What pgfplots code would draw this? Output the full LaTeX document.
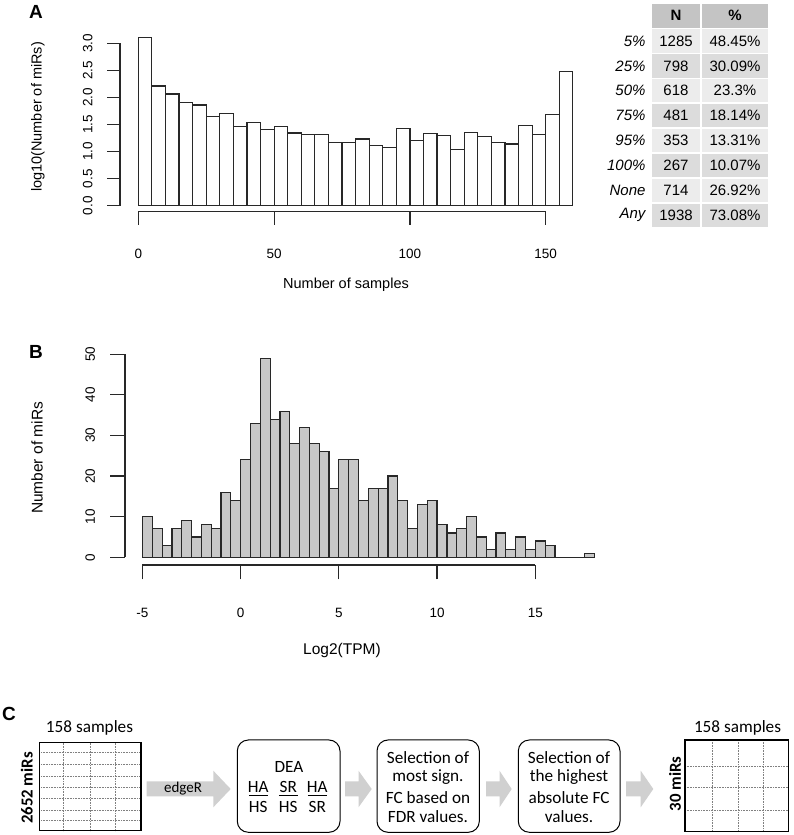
\documentclass[border=0pt]{standalone}
\usepackage{pgfplots}
\pgfplotsset{compat=1.18}
\usepackage{fontspec}
\setmainfont{Liberation Sans}
\newfontfamily\cali{Carlito}
\definecolor{barB}{RGB}{200,200,200}
\definecolor{edge}{RGB}{40,40,40}
\definecolor{thead}{RGB}{196,196,196}
\definecolor{rowa}{RGB}{236,236,236}
\definecolor{rowb}{RGB}{220,220,220}
\definecolor{arr}{RGB}{208,208,208}
\begin{document}
\begin{tikzpicture}
\useasboundingbox (0,0) rectangle (793pt,835pt);

% ---------------- Panel A ----------------
\begin{axis}[at={(120pt,623.3pt)}, anchor=south west, x=2.716pt, y=54.2pt,
  xmin=-6.74, xmax=162, ymin=-0.11, ymax=3.2, clip=false,
  axis lines*=left, axis line style={draw=none},
  xtick={0,50,100,150}, ytick={0,0.5,1,1.5,2,2.5,3},
  tick align=outside, major tick length=13pt,
  tick style={line width=1.2pt, edge},
  /pgf/number format/assume math mode=true,
  ticklabel style={font=\fontsize{13.5}{15}\selectfont},
  yticklabel style={/pgf/number format/fixed, /pgf/number format/fixed zerofill,
     /pgf/number format/precision=1, xshift=-11pt, rotate=90, anchor=south},
  xticklabel style={anchor=north, yshift=-21pt}]
\addplot[ybar interval, fill=white, draw=edge, line width=1.2pt] coordinates {
 (0,3.10) (5,2.21) (10,2.06) (15,1.91) (20,1.86) (25,1.65) (30,1.70) (35,1.46)
 (40,1.53) (45,1.41) (50,1.46) (55,1.34) (60,1.32) (65,1.32) (70,1.17) (75,1.17)
 (80,1.23) (85,1.11) (90,1.08) (95,1.43) (100,1.20) (105,1.33) (110,1.29) (115,1.04)
 (120,1.35) (125,1.27) (130,1.17) (135,1.14) (140,1.48) (145,1.32) (150,1.69) (155,2.47)
 (160,0)};
\draw[line width=1.2pt, edge] (axis cs:0,-0.11) -- (axis cs:150,-0.11);
\draw[line width=1.2pt, edge] (axis cs:-6.74,0) -- (axis cs:-6.74,3);
\end{axis}

% ---------------- Panel B ----------------
\begin{axis}[at={(125pt,270pt)}, anchor=south west, x=19.64pt, y=4.06pt,
  xmin=-5.89, xmax=19, ymin=-1.9, ymax=52, clip=false,
  axis lines*=left, axis line style={draw=none},
  xtick={-5,0,5,10,15}, ytick={0,10,20,30,40,50},
  tick align=outside, major tick length=14.5pt,
  tick style={line width=1.2pt, edge},
  /pgf/number format/assume math mode=true,
  ticklabel style={font=\fontsize{13.5}{15}\selectfont},
  yticklabel style={xshift=-12pt, rotate=90, anchor=south},
  xticklabel style={anchor=north, yshift=-25pt}]
\addplot[ybar interval, fill=barB, draw=edge, line width=1.2pt] coordinates {
 (-5,10) (-4.5,7) (-4,3) (-3.5,7) (-3,9) (-2.5,5) (-2,8) (-1.5,7) (-1,16) (-0.5,14)
 (0,24) (0.5,33) (1,49) (1.5,34) (2,36) (2.5,28) (3,32) (3.5,28) (4,26) (4.5,17)
 (5,24) (5.5,24) (6,14) (6.5,17) (7,17) (7.5,20) (8,14) (8.5,7) (9,13) (9.5,14)
 (10,8) (10.5,6) (11,7) (11.5,10) (12,5) (12.5,2) (13,6) (13.5,2) (14,5) (14.5,2)
 (15,4) (15.5,3) (16,0) (16.5,0) (17,0) (17.5,1) (18,0)};
\draw[line width=1.2pt, edge] (axis cs:-5,-1.9) -- (axis cs:15,-1.9);
\draw[line width=1.2pt, edge] (axis cs:-5.89,0) -- (axis cs:-5.89,50);
\end{axis}

\begin{scope}[shift={(0pt,835pt)}, x=1pt, y=-1pt]
% panel letters
\node[font=\fontsize{19}{20}\selectfont\bfseries] at (36,12) {A};
\node[font=\fontsize{19}{20}\selectfont\bfseries] at (36,352) {B};
\node[font=\fontsize{19}{20}\selectfont\bfseries] at (9,714) {C};
% axis labels
\node[rotate=90, font=\fontsize{14.5}{16}\selectfont] at (38,117) {log10(Number of miRs)};
\node[font=\fontsize{14.5}{16}\selectfont] at (346,285) {Number of samples};
\node[rotate=90, font=\fontsize{15.5}{17}\selectfont] at (37,458) {Number of miRs};
\node[font=\fontsize{15.5}{17}\selectfont] at (342,650) {Log2(TPM)};

% ---------------- Table ----------------
\fill[thead] (652,4) rectangle (700,27.7);
\fill[thead] (702,4) rectangle (768,27.7);
\node[font=\fontsize{15}{16}\selectfont\bfseries] at (676,15.8) {N};
\node[font=\fontsize{15}{16}\selectfont\bfseries] at (735,15.8) {\%};
\foreach \lab/\n/\p [count=\i] in {5\%/1285/48.45\%, 25\%/798/30.09\%, 50\%/618/23.3\%,
   75\%/481/18.14\%, 95\%/353/13.31\%, 100\%/267/10.07\%, None/714/26.92\%, Any/1938/73.08\%}{
  \pgfmathsetmacro\yt{29.3+(\i-1)*24.9}
  \pgfmathsetmacro\yb{\yt+23.4}
  \pgfmathsetmacro\yc{\yt+11.7}
  \pgfmathtruncatemacro\odd{mod(\i,2)}
  \ifnum\odd=1 \def\rc{rowa}\else\def\rc{rowb}\fi
  \fill[\rc] (652,\yt) rectangle (700,\yb);
  \fill[\rc] (702,\yt) rectangle (768,\yb);
  \node[anchor=east, font=\fontsize{15}{16}\selectfont\itshape] at (649,\yc) {\lab};
  \node[font=\fontsize{15}{16}\selectfont] at (676,\yc) {\n};
  \node[font=\fontsize{15}{16}\selectfont] at (735,\yc) {\p};
}

% ---------------- Panel C ----------------
\begin{scope}[font=\cali\fontsize{17.2}{18}\selectfont]
% left grid
\foreach \xx in {63.3,90,115.3} \draw[gray, line width=0.5pt, dash pattern=on 1pt off 0.6pt] (\xx,742.7) -- (\xx,830.7);
\foreach \yy in {752.7,764,776,787.3,798.3,810,820.7} \draw[gray, line width=0.5pt, dash pattern=on 1pt off 0.6pt] (39.3,\yy) -- (141,\yy);
\draw[line width=1.3pt] (39.3,742.7) rectangle (141,830.7);
\node at (89.5,728.3) {158 samples};
\node[rotate=90, font=\cali\bfseries\fontsize{16.8}{18}\selectfont] at (26.7,788) {2652 miRs};
% arrow edgeR
\fill[arr] (146.7,781.5) -- (213.3,781.5) -- (213.3,770.7) -- (230.7,789) -- (213.3,807.3) -- (213.3,796.3) -- (146.7,796.3) -- cycle;
\node[font=\cali\fontsize{15}{17}\selectfont] at (183,788.5) {edgeR};
% DEA box
\draw[line width=1pt, rounded corners=11pt] (237.3,740) rectangle (340,832.3);
\node at (289,767.3) {DEA};
\foreach \xx/\nu/\de in {258.3/HA/HS, 288.3/SR/HS, 317.3/HA/SR}{
  \node at (\xx,786.7) {\nu};
  \draw[line width=1pt] (\xx-9.5,795.7) -- (\xx+9.5,795.7);
  \node at (\xx,807.3) {\de};
}
% arrow 2
\fill[arr] (345,781.5) -- (358.5,781.5) -- (358.5,770.7) -- (371.7,789) -- (358.5,807.3) -- (358.5,796.3) -- (345,796.3) -- cycle;
% box 2
\draw[line width=1pt, rounded corners=11pt] (377,740) rectangle (479.3,832.3);
\node at (428,757.3) {Selection of};
\node at (428,777.3) {most sign.};
\node at (428,797.3) {FC based on};
\node at (428,816.7) {FDR values.};
% arrow 3
\fill[arr] (486,781.5) -- (499.5,781.5) -- (499.5,770.7) -- (511.7,789) -- (499.5,807.3) -- (499.5,796.3) -- (486,796.3) -- cycle;
% box 3
\draw[line width=1pt, rounded corners=11pt] (518.3,740) rectangle (620,832.3);
\node at (569,757.3) {Selection of};
\node at (569,777.3) {the highest};
\node at (569,797.3) {absolute FC};
\node at (569,816.7) {values.};
% arrow 4
\fill[arr] (626,781.5) -- (640.7,781.5) -- (640.7,770.7) -- (653.3,789) -- (640.7,807.3) -- (640.7,796.3) -- (626,796.3) -- cycle;
% right grid
\foreach \xx in {712,738,763} \draw[gray, line width=0.5pt, dash pattern=on 1pt off 0.6pt] (\xx,740) -- (\xx,831.7);
\foreach \yy in {766,787.7,810} \draw[gray, line width=0.5pt, dash pattern=on 1pt off 0.6pt] (685,\yy) -- (788.3,\yy);
\draw[line width=1.3pt] (685,740) rectangle (788.3,831.7);
\node at (737.5,728.3) {158 samples};
\node[rotate=90, font=\cali\bfseries\fontsize{16.8}{18}\selectfont] at (675,784) {30 miRs};
\end{scope}
\end{scope}
\end{tikzpicture}
\end{document}
